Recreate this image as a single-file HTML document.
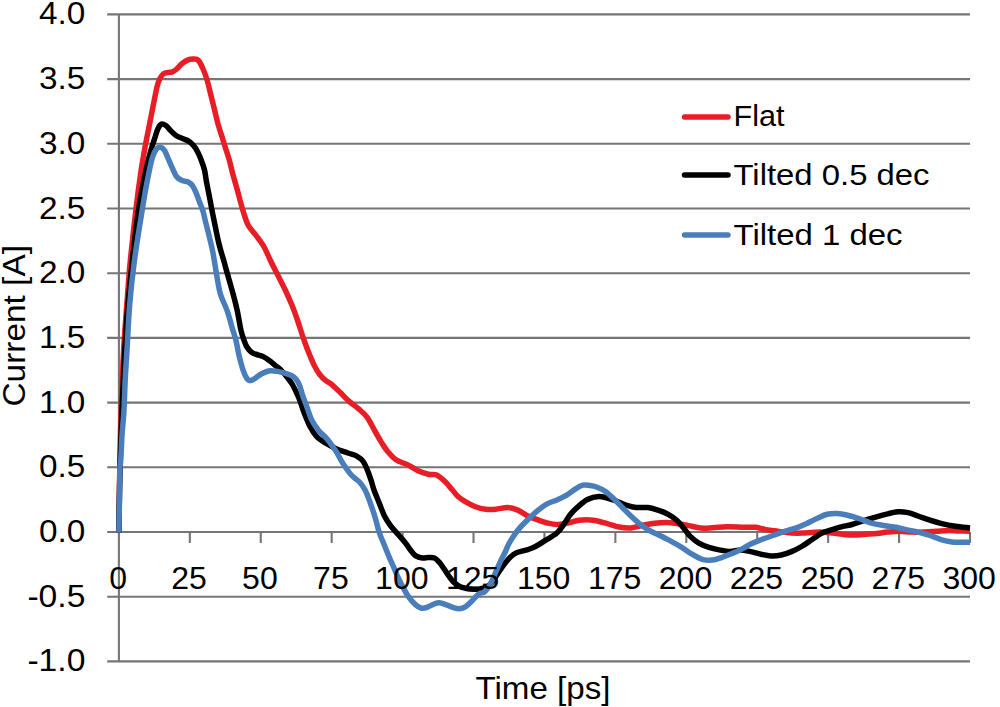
<!DOCTYPE html>
<html><head><meta charset="utf-8"><title>Current vs Time</title>
<style>html,body{margin:0;padding:0;background:#fff;}svg{display:block;}</style>
</head><body><svg width="1000" height="707" viewBox="0 0 1000 707"><rect x="0" y="0" width="1000" height="707" fill="#fff"/><g stroke="#757575" stroke-width="2.1" fill="none"><line x1="107.2" y1="14.42" x2="970.00" y2="14.42"/><line x1="107.2" y1="79.12" x2="970.00" y2="79.12"/><line x1="107.2" y1="143.82" x2="970.00" y2="143.82"/><line x1="107.2" y1="208.52" x2="970.00" y2="208.52"/><line x1="107.2" y1="273.22" x2="970.00" y2="273.22"/><line x1="107.2" y1="337.92" x2="970.00" y2="337.92"/><line x1="107.2" y1="402.62" x2="970.00" y2="402.62"/><line x1="107.2" y1="467.32" x2="970.00" y2="467.32"/><line x1="107.2" y1="532.02" x2="970.00" y2="532.02"/><line x1="107.2" y1="596.72" x2="970.00" y2="596.72"/><line x1="107.2" y1="661.42" x2="970.00" y2="661.42"/><line x1="118.9" y1="14.42" x2="118.9" y2="661.42"/><line x1="189.82" y1="532.02" x2="189.82" y2="543.02"/><line x1="260.75" y1="532.02" x2="260.75" y2="543.02"/><line x1="331.68" y1="532.02" x2="331.68" y2="543.02"/><line x1="402.60" y1="532.02" x2="402.60" y2="543.02"/><line x1="473.52" y1="532.02" x2="473.52" y2="543.02"/><line x1="544.45" y1="532.02" x2="544.45" y2="543.02"/><line x1="615.38" y1="532.02" x2="615.38" y2="543.02"/><line x1="686.30" y1="532.02" x2="686.30" y2="543.02"/><line x1="757.23" y1="532.02" x2="757.23" y2="543.02"/><line x1="828.15" y1="532.02" x2="828.15" y2="543.02"/><line x1="899.07" y1="532.02" x2="899.07" y2="543.02"/><line x1="970.00" y1="532.02" x2="970.00" y2="543.02"/></g><path d="M118.9 532.3 C119.0 526.9 119.2 510.4 119.3 500.0 C119.4 489.6 119.6 480.8 119.8 470.0 C120.0 459.2 120.2 446.5 120.5 435.0 C120.8 423.5 121.0 415.3 121.5 401.0 C122.0 386.7 122.8 365.0 123.7 349.0 C124.6 333.0 125.7 319.8 126.8 305.0 C127.9 290.2 128.8 276.2 130.4 260.0 C132.0 243.8 134.3 223.0 136.1 208.0 C137.9 193.0 139.6 180.7 141.2 170.0 C142.8 159.3 144.4 150.7 145.6 144.0 C146.8 137.3 147.5 134.7 148.4 130.0 C149.3 125.3 150.3 120.4 151.2 115.7 C152.1 111.0 153.1 106.3 154.0 101.6 C154.9 96.9 156.0 91.2 156.9 87.4 C157.8 83.6 158.6 81.2 159.7 79.0 C160.8 76.8 161.9 75.1 163.2 74.0 C164.5 72.9 166.0 72.9 167.5 72.6 C169.0 72.2 170.9 72.5 172.4 71.9 C173.9 71.3 175.0 70.4 176.7 69.0 C178.3 67.6 180.4 64.9 182.3 63.4 C184.2 61.9 186.1 60.6 188.0 59.9 C189.9 59.2 191.8 59.0 193.6 59.1 C195.3 59.2 196.9 58.8 198.5 60.5 C200.1 62.2 201.9 66.3 203.3 69.5 C204.7 72.7 205.9 76.2 207.0 79.8 C208.1 83.4 209.0 87.3 209.9 91.1 C210.8 94.9 211.8 98.6 212.7 102.4 C213.6 106.2 214.6 109.9 215.5 113.7 C216.4 117.5 217.2 121.3 218.3 125.1 C219.4 128.9 220.7 132.6 221.9 136.4 C223.1 140.2 224.2 143.9 225.4 147.7 C226.6 151.5 227.8 154.8 229.0 159.0 C230.2 163.2 231.1 167.7 232.5 173.0 C233.9 178.3 236.0 185.2 237.6 191.0 C239.2 196.8 240.5 202.3 242.2 208.0 C243.9 213.7 245.8 220.4 248.0 224.9 C250.2 229.4 253.0 231.3 255.7 235.0 C258.4 238.7 261.7 242.8 264.1 247.0 C266.5 251.2 268.1 255.6 270.2 260.0 C272.3 264.4 274.4 268.5 277.0 273.6 C279.6 278.7 283.0 285.1 285.5 290.5 C288.0 295.9 290.2 300.9 292.2 305.8 C294.2 310.7 295.6 314.8 297.4 320.0 C299.2 325.2 301.3 332.2 302.9 336.8 C304.5 341.4 305.5 344.2 306.8 347.7 C308.1 351.2 309.5 354.5 310.8 357.6 C312.1 360.7 313.3 363.7 314.8 366.5 C316.3 369.3 317.9 372.2 319.7 374.5 C321.5 376.8 323.6 378.8 325.6 380.4 C327.6 382.0 329.2 382.4 331.6 384.4 C334.0 386.4 337.3 389.6 340.1 392.3 C342.9 395.1 345.5 398.1 348.6 400.9 C351.7 403.7 355.6 406.2 358.7 408.9 C361.8 411.6 364.7 413.9 367.2 417.3 C369.7 420.7 371.6 425.2 373.9 429.2 C376.1 433.2 378.4 437.4 380.7 441.1 C383.0 444.8 384.9 448.2 387.5 451.3 C390.1 454.4 392.6 457.5 396.0 459.8 C399.4 462.1 404.2 463.1 407.9 464.9 C411.6 466.7 414.7 469.2 418.1 470.8 C421.5 472.4 425.2 473.5 428.3 474.2 C431.4 474.9 433.9 473.7 436.7 475.0 C439.5 476.3 442.6 479.4 445.2 481.8 C447.8 484.2 449.9 487.1 452.0 489.5 C454.1 491.9 455.8 494.5 458.0 496.5 C460.2 498.5 462.4 499.9 465.3 501.6 C468.2 503.3 472.1 505.4 475.5 506.7 C478.9 508.0 482.2 508.8 485.6 509.2 C489.0 509.6 492.1 509.5 495.8 509.2 C499.5 508.9 504.0 507.4 507.7 507.5 C511.4 507.6 514.8 508.8 517.9 510.1 C521.0 511.4 523.3 513.7 526.4 515.2 C529.5 516.8 533.1 518.1 536.5 519.4 C539.9 520.7 543.3 521.9 546.7 522.8 C550.1 523.6 553.2 524.5 556.9 524.5 C560.6 524.5 565.1 523.5 568.8 522.8 C572.5 522.1 575.0 520.6 579.0 520.2 C583.0 519.8 588.3 519.6 593.0 520.2 C597.7 520.8 602.9 522.5 607.2 523.6 C611.5 524.7 615.0 526.3 619.0 527.0 C623.0 527.7 626.9 528.2 630.9 527.9 C634.9 527.6 638.8 526.0 642.8 525.2 C646.8 524.4 650.8 523.6 654.7 523.2 C658.7 522.8 662.8 522.6 666.5 522.6 C670.2 522.6 673.0 523.0 676.7 523.5 C680.4 524.0 684.6 524.9 688.6 525.6 C692.6 526.4 696.5 527.6 700.5 528.0 C704.5 528.4 708.0 528.0 712.4 527.8 C716.8 527.6 721.8 526.8 727.0 526.7 C732.2 526.6 739.1 527.2 743.9 527.3 C748.7 527.4 752.1 526.9 755.8 527.3 C759.5 527.7 762.3 528.9 766.0 529.6 C769.7 530.3 773.6 530.7 777.9 531.3 C782.1 531.9 787.0 532.7 791.5 533.0 C796.0 533.3 800.5 533.1 805.0 533.0 C809.5 532.9 814.1 532.1 818.6 532.1 C823.1 532.1 827.7 532.6 832.2 533.0 C836.7 533.4 841.1 534.4 845.8 534.7 C850.5 535.0 855.7 534.9 860.4 534.7 C865.1 534.6 869.4 534.2 873.9 533.8 C878.4 533.4 883.2 532.5 887.5 532.1 C891.8 531.7 895.4 531.3 899.4 531.3 C903.4 531.3 907.1 532.0 911.3 532.1 C915.5 532.2 920.6 532.2 924.8 532.1 C929.0 532.0 932.7 531.6 936.7 531.3 C940.7 531.0 944.9 530.5 948.6 530.4 C952.3 530.3 955.2 530.8 958.8 530.9 C962.4 531.0 968.1 531.2 970.0 531.3" fill="none" stroke="#E81E27" stroke-width="5.5" stroke-linejoin="round" stroke-linecap="butt"/><path d="M118.9 532.3 C119.0 525.2 119.2 503.7 119.5 490.0 C119.8 476.3 120.1 463.3 120.5 450.0 C120.9 436.7 121.4 425.0 122.0 410.0 C122.6 395.0 123.4 376.7 124.3 360.0 C125.2 343.3 126.1 326.7 127.5 310.0 C128.9 293.3 130.7 276.7 132.5 260.0 C134.3 243.3 136.4 224.2 138.5 210.0 C140.6 195.8 143.2 184.2 145.0 175.0 C146.8 165.8 148.0 161.1 149.6 155.0 C151.2 148.9 153.3 142.6 154.7 138.3 C156.1 134.0 156.7 131.3 157.8 129.0 C158.9 126.7 160.1 124.7 161.5 124.2 C162.9 123.7 164.7 124.8 166.2 125.8 C167.7 126.8 168.9 128.8 170.5 130.4 C172.1 132.0 174.1 134.2 176.0 135.5 C177.9 136.8 180.0 137.5 181.9 138.3 C183.8 139.1 185.6 139.4 187.5 140.5 C189.4 141.6 191.5 143.2 193.2 145.1 C194.9 147.0 196.4 149.4 197.7 151.9 C199.0 154.4 200.0 156.8 201.1 159.8 C202.2 162.8 203.6 166.4 204.5 170.0 C205.4 173.6 205.7 177.5 206.4 181.3 C207.1 185.1 207.9 188.8 208.6 192.6 C209.3 196.4 210.1 200.1 210.8 203.9 C211.5 207.7 212.2 211.5 213.0 215.3 C213.8 219.1 214.5 222.8 215.3 226.6 C216.1 230.4 216.8 234.1 217.6 237.9 C218.4 241.7 219.4 245.5 220.4 249.2 C221.4 252.9 222.6 256.5 223.6 260.0 C224.6 263.5 225.5 267.0 226.3 270.0 C227.1 273.0 227.5 274.0 228.6 278.0 C229.7 282.0 231.6 288.5 233.1 294.0 C234.6 299.5 236.0 304.9 237.3 310.9 C238.6 316.9 239.8 325.2 240.9 330.0 C242.0 334.8 242.9 337.1 243.9 339.9 C244.9 342.7 245.5 344.7 246.8 346.8 C248.1 348.9 250.0 351.3 251.8 352.6 C253.6 353.9 255.7 354.1 257.7 354.8 C259.7 355.5 261.7 355.9 263.7 356.9 C265.7 357.9 267.6 359.2 269.6 360.7 C271.6 362.1 273.5 364.0 275.5 365.6 C277.5 367.2 279.5 368.6 281.5 370.6 C283.5 372.6 285.6 375.2 287.4 377.5 C289.2 379.8 290.8 381.7 292.4 384.5 C294.0 387.3 295.9 391.4 297.3 394.4 C298.7 397.4 299.5 399.4 300.6 402.5 C301.8 405.6 302.6 409.0 304.2 413.0 C305.8 417.0 307.9 422.5 310.0 426.5 C312.1 430.5 314.4 434.2 317.0 437.0 C319.6 439.8 322.6 441.2 325.8 443.2 C329.0 445.1 332.5 447.1 336.2 448.7 C339.9 450.3 344.5 451.8 347.9 453.0 C351.3 454.2 353.8 454.4 356.4 455.8 C358.9 457.2 361.3 458.9 363.2 461.5 C365.1 464.1 366.6 468.2 368.0 471.6 C369.4 475.0 370.6 478.9 371.6 482.0 C372.6 485.1 372.8 486.6 374.0 490.0 C375.2 493.4 377.4 498.5 379.1 502.7 C380.8 506.9 382.3 511.6 384.2 515.4 C386.1 519.2 388.2 522.4 390.5 525.6 C392.8 528.8 395.6 531.5 398.2 534.5 C400.8 537.5 403.8 540.8 405.8 543.4 C407.9 546.0 408.9 548.0 410.5 550.0 C412.1 552.0 413.4 554.3 415.4 555.6 C417.4 556.9 420.2 557.7 422.4 558.0 C424.6 558.3 426.4 557.4 428.4 557.4 C430.4 557.4 432.6 557.2 434.4 558.0 C436.2 558.8 437.6 560.4 439.2 562.2 C440.8 564.0 442.4 566.5 444.0 568.8 C445.6 571.1 447.2 573.8 448.8 576.0 C450.4 578.2 451.8 580.2 453.6 582.0 C455.4 583.8 457.4 585.4 459.6 586.5 C461.8 587.6 464.4 588.0 466.8 588.5 C469.2 589.0 471.8 589.1 474.0 589.2 C476.2 589.3 478.0 589.4 480.0 589.0 C482.0 588.6 484.0 588.1 486.0 587.0 C488.0 585.9 490.1 584.7 492.0 582.5 C493.9 580.3 495.5 577.0 497.5 574.0 C499.5 571.0 501.9 567.2 504.0 564.5 C506.1 561.8 508.0 559.4 510.0 557.5 C512.0 555.6 513.0 554.3 516.0 553.0 C519.0 551.7 524.6 550.7 527.9 549.6 C531.1 548.5 532.6 548.0 535.5 546.5 C538.4 545.0 541.4 542.9 545.0 540.6 C548.6 538.4 553.8 535.7 556.9 533.0 C560.0 530.3 561.4 527.6 563.7 524.5 C566.0 521.4 568.0 517.4 570.5 514.3 C573.0 511.2 576.1 508.3 579.0 505.8 C581.9 503.3 584.7 500.8 588.0 499.2 C591.3 497.6 595.5 496.7 598.7 496.5 C601.9 496.3 604.4 497.3 607.2 498.0 C610.0 498.7 612.5 499.5 615.6 500.7 C618.7 501.9 622.4 503.9 625.8 505.0 C629.2 506.1 632.3 507.1 636.0 507.5 C639.7 507.9 644.2 507.1 647.9 507.5 C651.6 507.9 654.7 509.0 658.1 510.1 C661.5 511.2 665.1 512.6 668.2 514.3 C671.3 516.0 674.2 517.9 676.7 520.2 C679.2 522.5 681.2 525.2 683.5 527.9 C685.8 530.6 687.8 533.9 690.3 536.4 C692.8 538.9 695.7 541.3 698.8 543.1 C701.9 544.9 705.6 546.3 709.0 547.4 C712.4 548.5 715.5 549.2 719.1 549.9 C722.7 550.6 726.8 551.5 730.4 551.5 C734.0 551.5 737.1 549.9 740.5 549.9 C743.9 549.9 747.3 550.9 750.7 551.6 C754.1 552.3 757.5 553.5 760.9 554.2 C764.3 554.9 767.7 555.8 771.1 555.9 C774.5 556.0 777.9 555.7 781.3 555.0 C784.7 554.3 788.1 553.0 791.5 551.6 C794.9 550.2 798.2 548.5 801.6 546.5 C805.0 544.5 808.4 542.0 811.8 539.8 C815.2 537.5 818.6 534.7 822.0 533.0 C825.4 531.3 828.5 530.7 832.2 529.6 C835.9 528.5 840.8 527.1 844.1 526.2 C847.4 525.4 849.0 525.4 852.0 524.5 C855.0 523.6 858.5 522.2 862.1 521.1 C865.8 520.0 870.0 518.8 873.9 517.7 C877.8 516.6 881.8 515.3 885.8 514.3 C889.8 513.3 894.0 512.1 897.7 511.8 C901.4 511.5 904.5 511.9 907.9 512.6 C911.3 513.3 914.4 514.7 918.1 516.0 C921.8 517.3 926.0 518.9 929.9 520.2 C933.8 521.5 937.5 522.6 941.8 523.6 C946.0 524.6 950.7 525.5 955.4 526.2 C960.1 526.9 967.6 527.6 970.0 527.9" fill="none" stroke="#000000" stroke-width="5.5" stroke-linejoin="round" stroke-linecap="butt"/><path d="M118.9 532.3 C119.0 526.9 119.3 510.4 119.5 500.0 C119.7 489.6 119.6 476.5 119.8 470.0 C120.0 463.5 120.3 466.8 120.7 461.0 C121.1 455.2 121.5 444.0 122.0 435.5 C122.5 427.0 123.5 419.2 124.0 410.0 C124.5 400.8 124.7 390.0 125.2 380.0 C125.7 370.0 126.2 362.6 127.0 350.0 C127.8 337.4 128.4 319.5 129.7 304.5 C130.9 289.5 132.4 275.8 134.5 260.0 C136.6 244.2 140.3 221.8 142.2 210.0 C144.1 198.2 144.6 195.5 145.7 189.2 C146.8 182.9 147.9 177.5 149.0 172.2 C150.1 166.9 151.2 161.4 152.4 157.5 C153.6 153.6 155.1 150.7 156.4 149.0 C157.7 147.3 159.1 147.1 160.4 147.3 C161.7 147.5 163.1 148.5 164.3 150.2 C165.5 151.9 166.5 154.8 167.7 157.5 C168.9 160.2 170.2 163.4 171.7 166.6 C173.2 169.8 174.8 174.2 176.5 176.5 C178.2 178.8 180.3 179.6 182.2 180.5 C184.1 181.4 186.4 181.1 188.1 182.0 C189.8 182.9 191.3 184.0 192.6 185.8 C193.9 187.6 194.9 189.9 196.0 192.6 C197.1 195.2 198.3 198.7 199.4 201.7 C200.5 204.7 201.9 207.7 202.8 210.7 C203.8 213.7 204.3 216.8 205.1 219.8 C205.8 222.8 206.6 225.8 207.3 228.8 C208.1 231.8 208.8 234.5 209.6 237.9 C210.4 241.3 211.4 245.3 212.2 249.0 C213.0 252.7 213.4 255.3 214.2 260.0 C215.0 264.7 216.0 271.3 217.0 277.0 C218.0 282.7 218.7 288.4 220.4 294.0 C222.1 299.6 225.2 305.2 227.2 310.9 C229.2 316.5 230.8 323.0 232.2 327.9 C233.6 332.8 234.8 335.5 235.9 340.0 C237.0 344.5 237.7 349.9 238.9 354.8 C240.1 359.7 241.6 365.7 242.9 369.6 C244.2 373.5 245.5 376.5 246.8 378.3 C248.1 380.1 249.3 380.7 250.8 380.6 C252.3 380.5 253.9 378.9 255.7 377.8 C257.5 376.7 259.4 375.0 261.7 373.8 C264.0 372.6 267.0 371.2 269.6 370.8 C272.2 370.4 274.9 371.0 277.5 371.4 C280.1 371.8 283.1 372.7 285.4 373.4 C287.7 374.1 289.6 374.5 291.4 375.5 C293.2 376.5 294.9 377.8 296.3 379.5 C297.7 381.2 298.8 383.4 299.8 386.0 C300.8 388.6 301.3 391.5 302.5 395.0 C303.7 398.5 305.4 402.9 307.0 407.2 C308.6 411.4 310.0 416.6 312.0 420.5 C314.0 424.4 316.4 427.8 319.0 430.9 C321.6 434.0 324.7 436.0 327.5 439.4 C330.3 442.8 333.4 447.3 336.0 451.3 C338.6 455.3 340.2 459.2 342.8 463.2 C345.4 467.1 348.5 471.9 351.3 475.0 C354.1 478.1 357.2 479.5 359.5 482.0 C361.8 484.5 363.3 486.6 365.1 490.0 C366.9 493.4 368.5 498.0 370.2 502.7 C371.9 507.4 373.8 513.1 375.3 518.0 C376.8 522.9 377.6 527.5 379.1 532.0 C380.6 536.5 382.5 540.5 384.2 544.7 C385.9 548.9 387.6 553.4 389.3 557.4 C391.0 561.4 392.9 565.4 394.4 568.9 C395.9 572.4 397.1 575.6 398.5 578.5 C399.9 581.4 401.0 583.5 402.6 586.5 C404.2 589.5 406.2 593.4 408.3 596.4 C410.4 599.4 413.3 602.7 415.4 604.6 C417.5 606.5 419.1 607.5 421.0 608.0 C422.9 608.5 424.6 608.1 426.7 607.5 C428.8 606.9 431.6 605.0 433.7 604.2 C435.8 603.4 437.3 602.6 439.4 602.7 C441.5 602.8 444.1 604.1 446.5 604.9 C448.9 605.7 451.5 607.1 453.6 607.7 C455.8 608.4 457.4 609.0 459.4 608.8 C461.4 608.6 463.6 607.9 465.6 606.6 C467.6 605.3 469.4 603.3 471.6 601.2 C473.8 599.1 476.6 595.6 478.8 594.0 C481.0 592.4 482.8 593.4 484.8 591.6 C486.8 589.8 489.0 586.4 490.8 583.2 C492.6 580.0 494.0 576.0 495.6 572.4 C497.2 568.8 498.8 565.0 500.4 561.6 C502.0 558.2 503.8 555.0 505.2 552.0 C506.6 549.0 507.4 546.4 509.0 543.5 C510.6 540.6 512.5 537.6 514.5 534.7 C516.5 531.8 518.8 529.0 521.3 526.2 C523.8 523.4 527.0 520.4 529.8 517.7 C532.6 515.0 535.4 512.4 538.2 510.1 C541.0 507.8 543.6 505.8 546.7 504.1 C549.8 502.4 553.5 501.4 556.9 499.9 C560.3 498.3 564.0 496.6 567.1 494.8 C570.2 493.0 573.0 490.4 575.6 488.8 C578.2 487.2 580.6 485.8 583.0 485.2 C585.4 484.6 587.7 485.2 590.0 485.5 C592.3 485.8 594.4 486.2 597.0 487.2 C599.6 488.2 602.7 489.4 605.5 491.4 C608.3 493.4 611.1 496.3 613.9 499.0 C616.7 501.7 619.6 504.7 622.4 507.5 C625.2 510.3 628.1 513.3 630.9 516.0 C633.7 518.7 636.6 521.3 639.4 523.6 C642.2 525.9 644.8 527.8 647.9 529.6 C651.0 531.5 654.4 532.9 658.1 534.7 C661.8 536.5 666.0 538.5 669.9 540.6 C673.8 542.7 678.1 545.1 681.8 547.4 C685.5 549.7 688.6 552.2 692.0 554.2 C695.4 556.2 698.8 558.3 702.2 559.3 C705.6 560.3 709.2 560.4 712.4 560.1 C715.6 559.8 718.5 558.6 721.5 557.6 C724.5 556.6 727.0 555.5 730.2 554.2 C733.4 552.9 737.1 551.6 740.5 549.9 C743.9 548.2 747.3 545.7 750.7 544.0 C754.1 542.3 757.2 541.2 760.9 539.8 C764.6 538.4 768.8 536.9 772.8 535.5 C776.8 534.1 780.8 532.6 784.7 531.3 C788.7 530.0 792.8 529.2 796.5 527.9 C800.2 526.6 803.3 525.2 806.7 523.6 C810.1 522.0 813.5 520.0 816.9 518.5 C820.3 517.0 823.7 515.1 827.1 514.3 C830.5 513.5 833.9 513.4 837.3 513.5 C840.7 513.6 843.7 514.3 847.5 515.2 C851.3 516.1 856.4 517.7 860.2 519.0 C864.0 520.3 866.8 521.8 870.5 522.8 C874.2 523.8 878.4 524.6 882.4 525.3 C886.4 526.0 890.3 526.3 894.3 527.0 C898.3 527.7 902.2 528.8 906.2 529.6 C910.2 530.5 914.2 531.1 918.1 532.1 C922.0 533.1 926.0 534.2 929.9 535.5 C933.8 536.8 938.1 538.7 941.8 539.8 C945.5 540.9 949.0 541.6 952.0 542.0 C955.0 542.4 957.0 542.2 960.0 542.2 C963.0 542.2 968.3 542.2 970.0 542.2" fill="none" stroke="#4A7EBB" stroke-width="5.5" stroke-linejoin="round" stroke-linecap="butt"/><g font-family="'Liberation Sans', Arial, sans-serif" font-size="32" fill="#000"><text x="85.4" y="24.4" text-anchor="end" textLength="46.3" lengthAdjust="spacingAndGlyphs">4.0</text><text x="85.4" y="89.1" text-anchor="end" textLength="46.3" lengthAdjust="spacingAndGlyphs">3.5</text><text x="85.4" y="153.8" text-anchor="end" textLength="46.3" lengthAdjust="spacingAndGlyphs">3.0</text><text x="85.4" y="218.5" text-anchor="end" textLength="46.3" lengthAdjust="spacingAndGlyphs">2.5</text><text x="85.4" y="283.2" text-anchor="end" textLength="46.3" lengthAdjust="spacingAndGlyphs">2.0</text><text x="85.4" y="347.9" text-anchor="end" textLength="46.3" lengthAdjust="spacingAndGlyphs">1.5</text><text x="85.4" y="412.6" text-anchor="end" textLength="46.3" lengthAdjust="spacingAndGlyphs">1.0</text><text x="85.4" y="477.3" text-anchor="end" textLength="46.3" lengthAdjust="spacingAndGlyphs">0.5</text><text x="85.4" y="542.0" text-anchor="end" textLength="46.3" lengthAdjust="spacingAndGlyphs">0.0</text><text x="85.4" y="606.7" text-anchor="end" textLength="58" lengthAdjust="spacingAndGlyphs">-0.5</text><text x="85.4" y="671.4" text-anchor="end" textLength="58" lengthAdjust="spacingAndGlyphs">-1.0</text><text x="118.1" y="589.3" text-anchor="middle">0</text><text x="189.0" y="589.3" text-anchor="middle">25</text><text x="259.9" y="589.3" text-anchor="middle">50</text><text x="330.9" y="589.3" text-anchor="middle">75</text><text x="401.8" y="589.3" text-anchor="middle">100</text><text x="472.7" y="589.3" text-anchor="middle">125</text><text x="543.7" y="589.3" text-anchor="middle">150</text><text x="614.6" y="589.3" text-anchor="middle">175</text><text x="685.5" y="589.3" text-anchor="middle">200</text><text x="756.4" y="589.3" text-anchor="middle">225</text><text x="827.4" y="589.3" text-anchor="middle">250</text><text x="898.3" y="589.3" text-anchor="middle">275</text><text x="969.2" y="589.3" text-anchor="middle">300</text></g><text x="543" y="699.2" text-anchor="middle" font-family="'Liberation Sans', Arial, sans-serif" font-size="32" textLength="135" lengthAdjust="spacingAndGlyphs">Time [ps]</text><text transform="translate(25.4 325.8) rotate(-90)" x="0" y="0" text-anchor="middle" font-family="'Liberation Sans', Arial, sans-serif" font-size="32" textLength="161.5" lengthAdjust="spacingAndGlyphs">Current [A]</text><line x1="684.5" y1="117" x2="728" y2="117" stroke="#E81E27" stroke-width="5.5" stroke-linecap="round"/><text x="733.5" y="126.4" font-family="'Liberation Sans', Arial, sans-serif" font-size="30" textLength="51" lengthAdjust="spacingAndGlyphs">Flat</text><line x1="684.5" y1="174.9" x2="728" y2="174.9" stroke="#000000" stroke-width="5.5" stroke-linecap="round"/><text x="733.5" y="185.2" font-family="'Liberation Sans', Arial, sans-serif" font-size="30" textLength="196" lengthAdjust="spacingAndGlyphs">Tilted 0.5 dec</text><line x1="684.5" y1="234.9" x2="728" y2="234.9" stroke="#4A7EBB" stroke-width="5.5" stroke-linecap="round"/><text x="733.5" y="245.4" font-family="'Liberation Sans', Arial, sans-serif" font-size="30" textLength="169" lengthAdjust="spacingAndGlyphs">Tilted 1 dec</text></svg></body></html>
